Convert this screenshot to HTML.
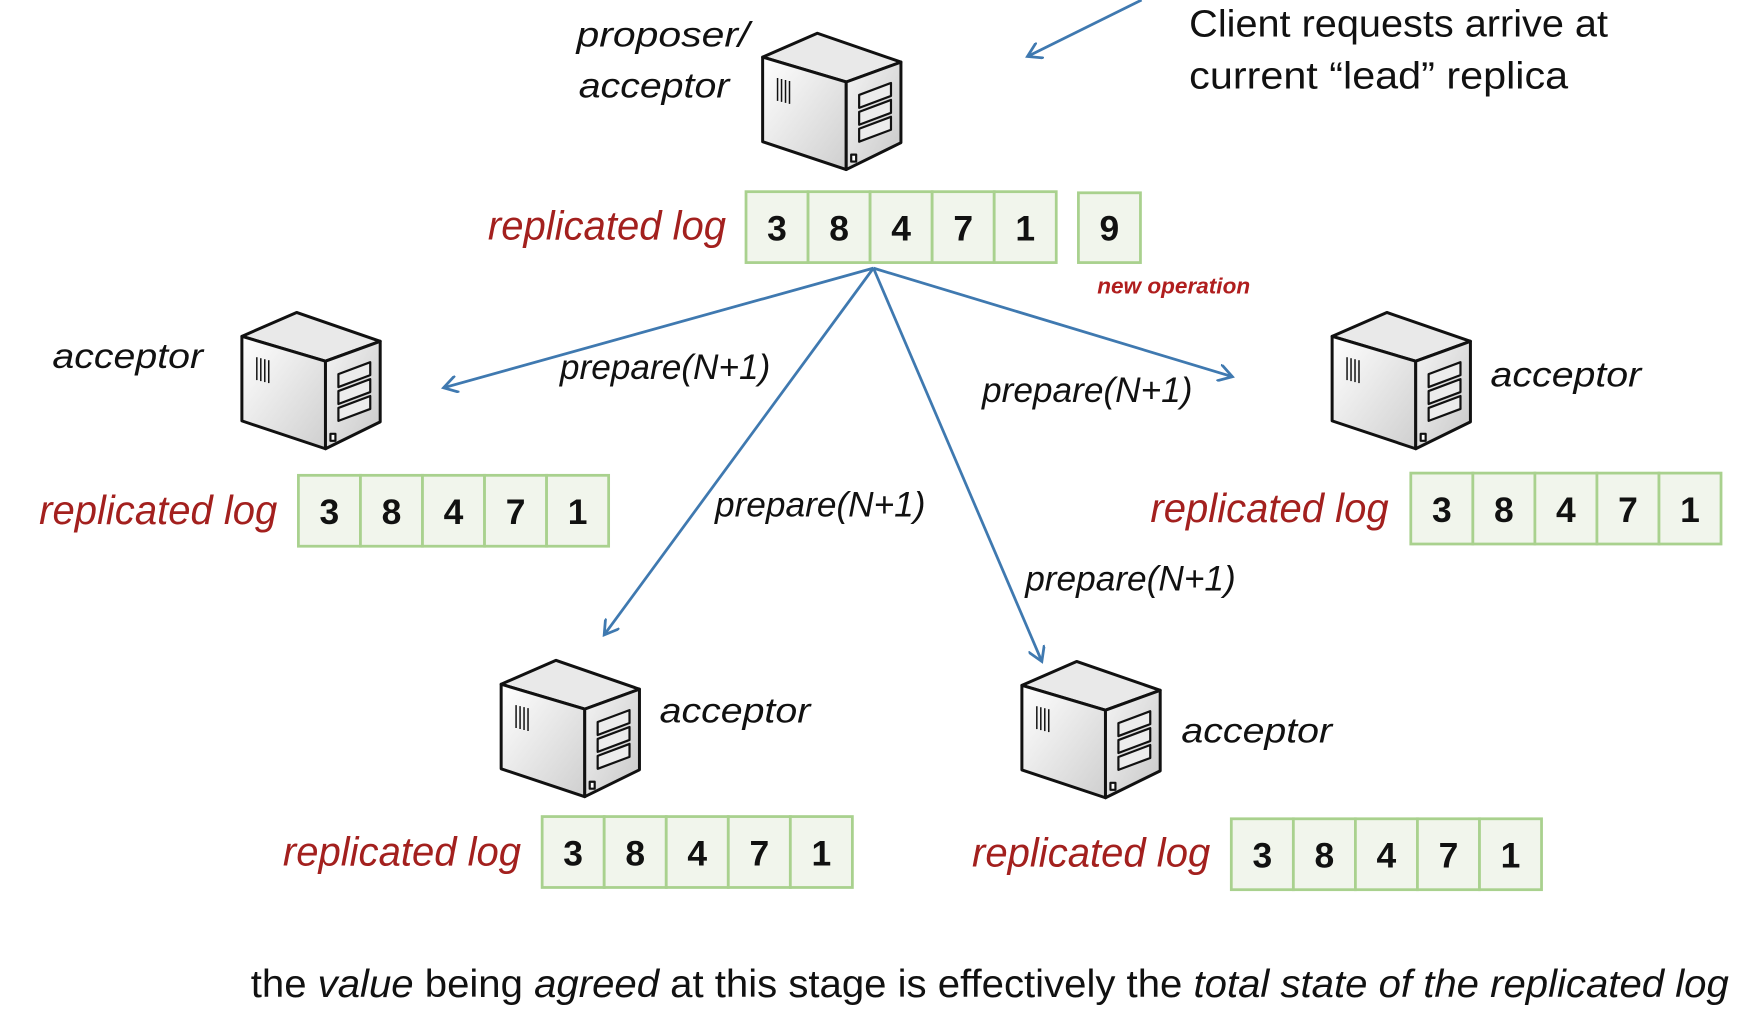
<!DOCTYPE html>
<html><head><meta charset="utf-8"><style>
html,body{margin:0;padding:0;background:#fff;}
svg{display:block;}
text{font-family:"Liberation Sans",sans-serif;}
.it{font-style:italic;}
.lbl{font-style:italic;font-size:32px;fill:#111;}
.red{font-style:italic;font-size:37px;fill:#a3201e;}
.num{font-weight:bold;font-size:32px;fill:#111;text-anchor:middle;}
.cell{fill:#f1f5ec;stroke:#a9d18e;stroke-width:2.5;}
.arr{stroke:#3f79b0;stroke-width:2.5;fill:none;}
</style></head><body>
<svg width="1738" height="1016" viewBox="0 0 1568 917" xmlns="http://www.w3.org/2000/svg">
<defs>
<linearGradient id="lf" x1="0" y1="0" x2="1" y2="1"><stop offset="0" stop-color="#ffffff"/><stop offset="1" stop-color="#cfcfcf"/></linearGradient>
<linearGradient id="rf" x1="0" y1="0" x2="1" y2="1"><stop offset="0" stop-color="#f4f4f4"/><stop offset="1" stop-color="#c8c8c8"/></linearGradient>
<g id="srv">
 <g transform="scale(0.898)" stroke="#111" stroke-width="3" stroke-linejoin="round">
  <polygon points="0,24 55,0 139,29 84,49" fill="#e9e9e9"/>
  <polygon points="0,24 84,49 84,137 0,109" fill="url(#lf)"/>
  <polygon points="84,49 139,29 139,110 84,137" fill="url(#rf)"/>
  <g stroke-width="2.2" fill="#ececec">
   <polygon points="97,62 129,50 129,63 97,75"/>
   <polygon points="97,79 129,67 129,80 97,92"/>
   <polygon points="97,96 129,84 129,97 97,109"/>
   <rect x="89" y="122" width="5" height="7" fill="#fff"/>
  </g>
  <g stroke-width="1.5"><line x1="15" y1="45" x2="15" y2="68"/><line x1="19" y1="46" x2="19" y2="69"/><line x1="23" y1="47" x2="23" y2="70"/><line x1="27" y1="48" x2="27" y2="71"/></g>
 </g>
</g>
<g id="log">
 <rect class="cell" x="0" y="0" width="56" height="64"/><rect class="cell" x="56" y="0" width="56" height="64"/><rect class="cell" x="112" y="0" width="56" height="64"/><rect class="cell" x="168" y="0" width="56" height="64"/><rect class="cell" x="224" y="0" width="56" height="64"/>
 <text class="num" x="28" y="44">3</text><text class="num" x="84" y="44">8</text><text class="num" x="140" y="44">4</text><text class="num" x="196" y="44">7</text><text class="num" x="252" y="44">1</text>
</g>
<marker id="ah" markerWidth="16" markerHeight="16" refX="13" refY="8" orient="auto" markerUnits="userSpaceOnUse"><path d="M0,0 L13,8 L0,16" fill="none" stroke="#3f79b0" stroke-width="2.5"/></marker>
</defs>

<!-- top -->
<text class="lbl" x="520" y="42" font-size="36" textLength="156" lengthAdjust="spacingAndGlyphs">proposer/</text>
<text class="lbl" x="522" y="88" font-size="36" textLength="136" lengthAdjust="spacingAndGlyphs">acceptor</text>
<use href="#srv" x="688" y="30"/>
<line class="arr" x1="1030" y1="0" x2="927" y2="51" marker-end="url(#ah)"/>
<text x="1073" y="33" font-size="34" fill="#111" textLength="378" lengthAdjust="spacingAndGlyphs">Client requests arrive at</text>
<text x="1073" y="80" font-size="34" fill="#111" textLength="342" lengthAdjust="spacingAndGlyphs">current “lead” replica</text>
<text class="red" x="440" y="216" textLength="215" lengthAdjust="spacingAndGlyphs">replicated log</text>
<use href="#log" x="673" y="173"/>
<rect class="cell" x="973" y="174" width="56" height="63"/>
<text class="num" x="1001" y="217">9</text>
<text x="990" y="265" font-size="20" font-weight="bold" font-style="italic" fill="#b01e1e" textLength="138" lengthAdjust="spacingAndGlyphs">new operation</text>

<!-- arrows -->
<line class="arr" x1="788" y1="242" x2="400" y2="350" marker-end="url(#ah)"/>
<line class="arr" x1="788" y1="242" x2="545" y2="573" marker-end="url(#ah)"/>
<line class="arr" x1="788" y1="242" x2="940" y2="597" marker-end="url(#ah)"/>
<line class="arr" x1="788" y1="242" x2="1112" y2="340" marker-end="url(#ah)"/>
<text class="lbl" x="505" y="342" textLength="190" lengthAdjust="spacingAndGlyphs">prepare(N+1)</text>
<text class="lbl" x="645" y="466" textLength="190" lengthAdjust="spacingAndGlyphs">prepare(N+1)</text>
<text class="lbl" x="886" y="363" textLength="190" lengthAdjust="spacingAndGlyphs">prepare(N+1)</text>
<text class="lbl" x="925" y="533" textLength="190" lengthAdjust="spacingAndGlyphs">prepare(N+1)</text>

<!-- left -->
<use href="#srv" x="218" y="282"/>
<text class="lbl" x="47" y="332" font-size="36" textLength="136" lengthAdjust="spacingAndGlyphs">acceptor</text>
<text class="red" x="35" y="473" textLength="215" lengthAdjust="spacingAndGlyphs">replicated log</text>
<use href="#log" x="269" y="429"/>

<!-- right -->
<use href="#srv" x="1202" y="282"/>
<text class="lbl" x="1345" y="349" font-size="36" textLength="136" lengthAdjust="spacingAndGlyphs">acceptor</text>
<text class="red" x="1038" y="471" textLength="215" lengthAdjust="spacingAndGlyphs">replicated log</text>
<use href="#log" x="1273" y="427"/>

<!-- bottom left -->
<use href="#srv" x="452" y="596"/>
<text class="lbl" x="595" y="652" font-size="36" textLength="136" lengthAdjust="spacingAndGlyphs">acceptor</text>
<text class="red" x="255" y="781" textLength="215" lengthAdjust="spacingAndGlyphs">replicated log</text>
<use href="#log" x="489" y="737"/>

<!-- bottom right -->
<use href="#srv" x="922" y="597"/>
<text class="lbl" x="1066" y="670" font-size="36" textLength="136" lengthAdjust="spacingAndGlyphs">acceptor</text>
<text class="red" x="877" y="782" textLength="215" lengthAdjust="spacingAndGlyphs">replicated log</text>
<use href="#log" x="1111" y="739"/>

<!-- caption -->
<text x="226" y="900" font-size="35" fill="#111" textLength="1334" lengthAdjust="spacingAndGlyphs">the <tspan class="it">value</tspan> being <tspan class="it">agreed</tspan> at this stage is effectively the <tspan class="it">total state of the replicated log</tspan></text>
</svg>
</body></html>
